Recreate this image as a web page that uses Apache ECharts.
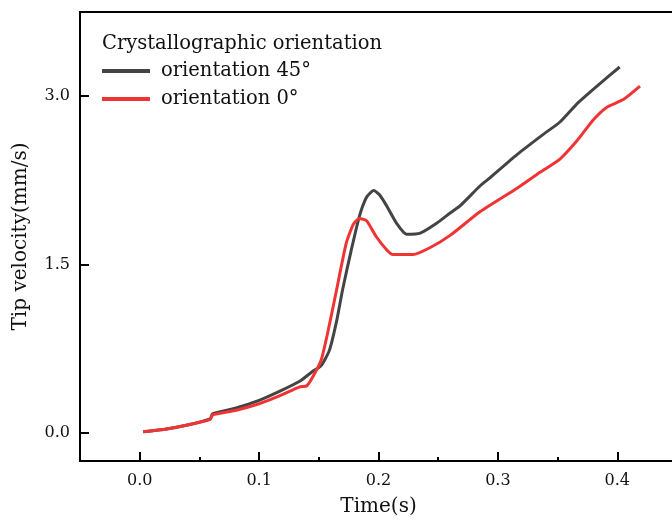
<!DOCTYPE html>
<html>
<head>
<meta charset="utf-8">
<script src="https://cdn.jsdelivr.net/npm/echarts@6/dist/echarts.min.js"></script>
<style>
  html, body { margin: 0; padding: 0; background: #fff; }
  #chart { width: 672px; height: 520px; }
</style>
</head>
<body>
<div id="chart"></div>
<script>
// orientation 45° (grey curve)
const t45 = [0.003, 0.02, 0.04, 0.059, 0.061, 0.08, 0.1, 0.117, 0.134, 0.145, 0.152, 0.159, 0.165, 0.17, 0.177, 0.184, 0.19, 0.196, 0.201, 0.207, 0.215, 0.2235, 0.235, 0.249, 0.26, 0.268, 0.285, 0.293, 0.316, 0.338, 0.352, 0.367, 0.383, 0.402];
const v45 = [0.01, 0.03, 0.07, 0.125, 0.17, 0.22, 0.29, 0.37, 0.46, 0.55, 0.6, 0.74, 1.0, 1.28, 1.62, 1.93, 2.1, 2.16, 2.12, 2.02, 1.87, 1.77, 1.78, 1.87, 1.96, 2.02, 2.2, 2.27, 2.48, 2.66, 2.77, 2.94, 3.09, 3.26];

// orientation 0° (red curve)
const t0 = [0.003, 0.02, 0.04, 0.059, 0.061, 0.08, 0.1, 0.117, 0.134, 0.14, 0.145, 0.152, 0.158, 0.165, 0.173, 0.179, 0.184, 0.19, 0.198, 0.207, 0.212, 0.229, 0.243, 0.26, 0.285, 0.316, 0.335, 0.352, 0.366, 0.38, 0.391, 0.405, 0.419];
const v0 = [0.01, 0.03, 0.07, 0.12, 0.16, 0.2, 0.26, 0.33, 0.41, 0.42, 0.5, 0.65, 0.92, 1.28, 1.69, 1.86, 1.91, 1.89, 1.75, 1.63, 1.59, 1.59, 1.65, 1.76, 1.97, 2.18, 2.32, 2.44, 2.6, 2.79, 2.9, 2.97, 3.09];

const seriesNames = ['orientation 45°', 'orientation 0°'];
const xTicks = [0, 0.1, 0.2, 0.3, 0.4];
const xMinorTicks = [0.05, 0.15, 0.25, 0.35];
const yTicks = [0, 1.5, 3.0];

const FONT = '"DejaVu Serif", serif';

const pairs = (xs, ys) => xs.map((x, i) => [x, ys[i]]);

const chart = echarts.init(document.getElementById('chart'));

const option = {
  backgroundColor: '#fff',
  animation: false,
  title: {
    text: 'Crystallographic orientation',
    left: 97,
    top: 29,
    textStyle: { fontFamily: FONT, fontSize: 19.5, fontWeight: 'normal', color: '#111' }
  },
  legend: {
    data: seriesNames,
    orient: 'vertical',
    left: 102,
    top: 61,
    padding: 0,
    icon: 'rect',
    itemWidth: 48,
    itemHeight: 4,
    itemGap: 8,
    textStyle: { fontFamily: FONT, fontSize: 19.5, color: '#111', lineHeight: 20, padding: [0, 0, 0, 6] }
  },
  grid: {
    left: 80,
    top: 12,
    width: 597,
    height: 449,
    outerBoundsMode: 'none',
    show: true,
    borderColor: '#000',
    borderWidth: 2
  },
  xAxis: [
    {
      type: 'value',
      min: -0.05,
      max: 0.45,
      name: 'Time(s)',
      nameLocation: 'middle',
      nameGap: 36,
      nameTextStyle: { fontFamily: FONT, fontSize: 20, color: '#111' },
      axisLine: { onZero: false, lineStyle: { color: '#000', width: 2 } },
      axisTick: { customValues: xTicks, inside: true, length: 9, lineStyle: { color: '#000', width: 2 } },
      axisLabel: {
        customValues: xTicks,
        margin: 12,
        fontFamily: FONT,
        fontSize: 16,
        color: '#111',
        formatter: v => v.toFixed(1)
      },
      splitLine: { show: false }
    },
    {
      type: 'value',
      min: -0.05,
      max: 0.45,
      position: 'bottom',
      axisLine: { show: false, onZero: false },
      axisTick: { customValues: xMinorTicks, inside: true, length: 4, lineStyle: { color: '#000', width: 2 } },
      axisLabel: { show: false },
      splitLine: { show: false }
    }
  ],
  yAxis: {
    type: 'value',
    min: -0.25,
    max: 3.75,
    name: 'Tip velocity(mm/s)',
    nameLocation: 'middle',
    nameGap: 49,
    nameTextStyle: { fontFamily: FONT, fontSize: 20, color: '#111' },
    axisLine: { onZero: false, lineStyle: { color: '#000', width: 2 } },
    axisTick: { customValues: yTicks, inside: true, length: 9, lineStyle: { color: '#000', width: 2 } },
    axisLabel: {
      customValues: yTicks,
      margin: 10,
      fontFamily: FONT,
      fontSize: 16,
      color: '#111',
      formatter: v => v.toFixed(1)
    },
    splitLine: { show: false }
  },
  series: [
    {
      name: seriesNames[0],
      type: 'line',
      data: pairs(t45, v45),
      showSymbol: false,
      smooth: 0.2,
      color: '#444444',
      lineStyle: { width: 3, color: '#444444' }
    },
    {
      name: seriesNames[1],
      type: 'line',
      data: pairs(t0, v0),
      showSymbol: false,
      smooth: 0.2,
      color: '#f03434',
      lineStyle: { width: 3, color: '#f03434' }
    }
  ]
};

chart.setOption(option);
</script>
</body>
</html>
